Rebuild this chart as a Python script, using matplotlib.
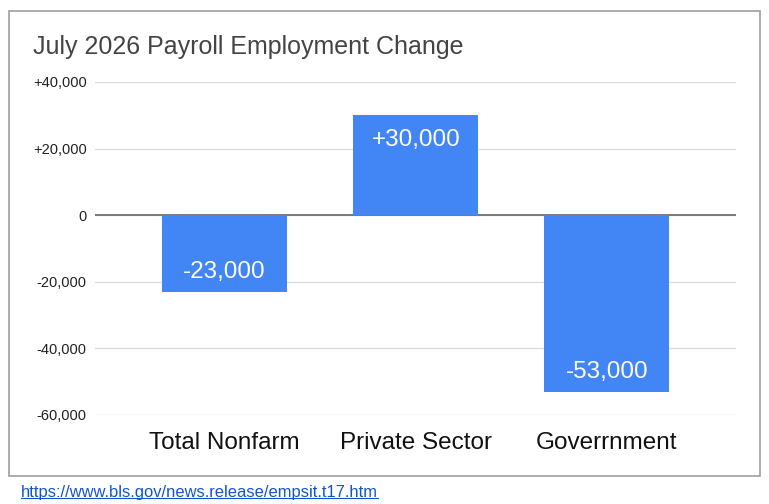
import matplotlib.pyplot as plt
from matplotlib.patches import Rectangle

categories = ["Total Nonfarm", "Private Sector", "Goverrnment"]
changes = [-23000, 30000, -53000]
bar_labels = ["-23,000", "+30,000", "-53,000"]
yticks = [-60000, -40000, -20000, 0, 20000, 40000]
ytick_labels = ["-60,000", "-40,000", "-20,000", "0", "+20,000", "+40,000"]

plt.rcParams['font.family'] = ['Liberation Sans', 'DejaVu Sans']

W, H = 769, 504
fig = plt.figure(figsize=(W / 100, H / 100), dpi=100)

# outer chart border
fig.patches.append(Rectangle((9 / W, 1 - 476 / H), 751 / W, 465 / H,
                             transform=fig.transFigure, fill=False,
                             edgecolor="#9e9e9e", linewidth=1.2))

ax = fig.add_axes([95 / W, 1 - 415 / H, 641 / W, 333 / H])
x = range(len(categories))
bars = ax.bar(x, changes, width=0.654, color="#4285f4", zorder=3)

for b, v, lab in zip(bars, changes, bar_labels):
    cx = b.get_x() + b.get_width() / 2
    off = -17.5 if v >= 0 else 14.5
    ax.annotate(lab, (cx, v), xytext=(0, off), textcoords="offset points",
                ha="center", va="center", color="white", fontsize=17.5, zorder=4)

ax.set_xlim(-0.678, 2.675)
ax.set_ylim(-60000, 40000)
ax.set_yticks(yticks)
ax.set_yticklabels(ytick_labels, fontsize=10.5, color="#222222")
ax.set_xticks(list(x))
ax.set_xticklabels(categories, fontsize=17.5, color="#111111")
ax.tick_params(axis="both", length=0)
ax.tick_params(axis="y", pad=6)
ax.tick_params(axis="x", pad=12)
ax.grid(axis="y", color="#dddddd", linewidth=1, zorder=0)
ax.axhline(0, color="#666666", linewidth=1.2, zorder=2)
for s in ax.spines.values():
    s.set_visible(False)

fig.text(33 / W, 1 - 47 / H, "July 2026 Payroll Employment Change",
         fontsize=18, color="#444444", va="center", ha="left")

link = fig.text(21 / W, 1 - 492 / H, "https://www.bls.gov/news.release/empsit.t17.htm",
                fontsize=11.9, color="#1155cc", va="center", ha="left")
link.set_url("https://www.bls.gov/news.release/empsit.t17.htm")
fig.canvas.draw()
bb = link.get_window_extent().transformed(fig.transFigure.inverted())
fig.lines.append(plt.Line2D([bb.x0, bb.x1], [bb.y0 + 0.002, bb.y0 + 0.002],
                            transform=fig.transFigure, color="#1155cc", linewidth=0.8))

fig.savefig("out.png", dpi=100)
